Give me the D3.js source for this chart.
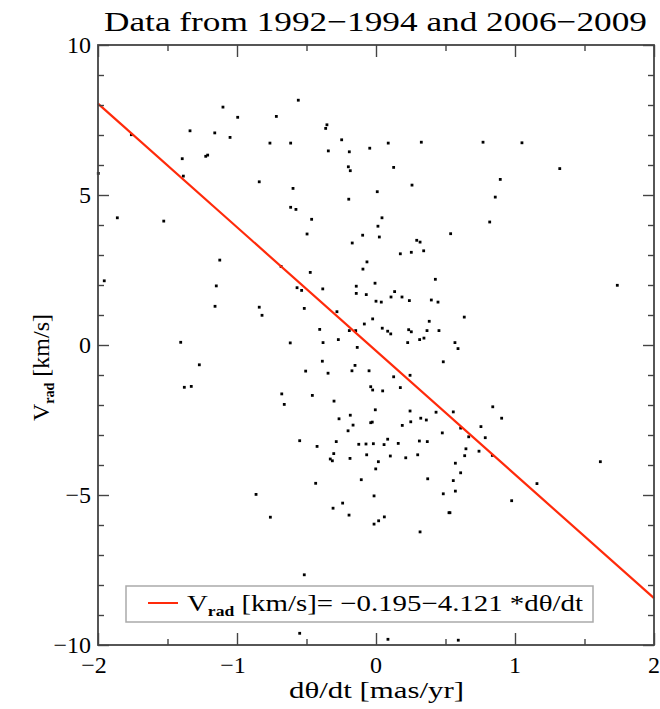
<!DOCTYPE html>
<html><head><meta charset="utf-8">
<script src="https://cdn.jsdelivr.net/npm/d3@7"></script>
<style>body{margin:0;background:#fff}svg{display:block}text{font-family:"Liberation Serif","DejaVu Serif",serif;fill:#000}</style>
</head><body><svg id="c" width="660" height="709"></svg>
<script>
const title = "Data from 1992\u22121994 and 2006\u22122009";
const xTicks = [-2, -1, 0, 1, 2];
const yTicks = [-10, -5, 0, 5, 10];
const fitIntercept = -0.195, fitSlope = -4.121;
const xs = [-1.101,-0.995,-0.717,-1.338,-1.160,-1.050,-0.763,-1.760,-1.394,-1.225,-1.211,-1.386,-0.840,-1.998,-1.861,-1.527,-0.559,-0.353,-0.362,-0.614,-0.247,-0.343,-0.192,-0.045,0.088,0.326,-0.199,-0.185,0.127,0.259,-0.597,0.009,-0.196,-0.614,-0.576,-0.463,0.043,0.014,-0.496,-0.096,0.024,-0.171,0.293,0.317,0.537,0.770,1.050,1.322,0.894,0.858,0.818,-1.124,-1.955,-1.149,-1.158,-0.840,-0.820,-1.405,-1.271,-1.379,-1.329,0.175,0.254,0.343,-0.065,-0.094,-0.473,-0.683,-0.142,-0.007,-0.142,-0.070,-0.568,-0.535,-0.383,0.134,0.108,0.187,0.000,0.038,0.240,0.398,0.446,0.427,-0.516,-0.281,-0.024,-0.084,0.383,0.635,-0.405,-0.192,-0.146,0.045,0.084,0.106,0.235,0.254,0.367,0.453,0.314,0.345,0.228,0.568,0.590,-0.617,-0.381,-0.271,-0.135,-0.386,0.484,-0.151,-0.173,-0.050,-0.506,-0.345,0.127,0.245,-0.038,-0.024,0.048,0.175,-0.678,-0.660,-0.458,-0.302,-0.005,0.245,0.432,0.556,-0.185,-0.266,-0.165,-0.038,-0.027,0.250,0.322,0.362,0.189,-0.201,0.477,0.609,0.667,-0.549,-0.424,-0.286,-0.124,-0.072,-0.019,0.058,0.084,0.160,0.312,0.369,0.647,1.736,0.840,0.904,0.755,0.786,-0.863,-0.760,-0.304,-0.329,-0.314,-0.187,-0.067,0.017,-0.002,0.103,0.214,0.300,0.638,0.571,0.609,0.556,0.571,0.484,0.372,-0.434,-0.106,-0.014,-0.240,-0.309,-0.194,-0.014,0.019,0.060,0.525,0.532,0.317,-0.516,-0.549,0.086,0.592,0.741,0.837,1.614,1.158,0.976];
const ys = [7.93,7.59,7.62,7.14,7.07,6.92,6.73,7.01,6.21,6.29,6.33,5.63,5.44,5.72,4.24,4.13,8.16,7.34,7.22,6.73,6.84,6.47,6.44,6.56,6.73,6.76,5.94,5.81,5.92,5.33,5.22,5.11,4.86,4.59,4.52,4.19,4.24,3.96,3.70,3.66,3.60,3.40,3.49,3.43,3.71,6.76,6.74,5.88,5.52,4.93,4.10,2.83,2.14,1.97,1.29,1.26,0.99,0.09,-0.66,-1.41,-1.38,3.04,3.09,3.14,2.77,2.53,2.42,2.62,1.96,2.06,1.72,1.68,1.91,1.82,1.87,1.78,1.60,1.60,1.46,1.43,1.48,1.50,1.43,2.19,1.22,1.11,0.87,0.70,0.79,0.93,0.52,0.48,0.48,0.56,0.46,0.37,0.51,0.44,0.48,0.48,0.18,0.23,0.08,0.08,-0.12,0.07,0.08,0.18,-0.08,-0.54,-0.56,-0.68,-0.86,-0.86,-0.87,-0.94,-1.06,-1.01,-1.39,-1.50,-1.53,-1.42,-1.63,-1.98,-1.68,-1.87,-2.16,-2.20,-2.24,-2.23,-2.34,-2.46,-2.67,-2.59,-2.57,-2.56,-2.44,-2.50,-2.68,-2.86,-2.93,-2.77,-3.06,-3.19,-3.38,-3.22,-3.31,-3.30,-3.29,-3.32,-3.14,-3.28,-3.20,-3.22,-3.46,1.99,-2.06,-2.44,-2.72,-3.09,-4.98,-5.74,-3.62,-3.80,-3.86,-3.78,-3.66,-3.89,-4.13,-3.70,-3.76,-3.66,-3.69,-3.94,-4.26,-4.52,-4.87,-4.96,-4.46,-4.61,-4.49,-5.03,-5.27,-5.44,-5.67,-5.97,-5.86,-5.73,-5.59,-5.59,-6.23,-7.66,-9.61,-9.81,-9.84,-3.54,-3.68,-3.89,-4.62,-5.19];

const svg = d3.select("#c");
const L = 98, R = 654, T = 45, B = 645;
const x = d3.scaleLinear().domain([-2, 2]).range([L, R]);
const y = d3.scaleLinear().domain([-10, 10]).range([B, T]);
const axisCol = "#444";

// points
svg.append("g").selectAll("rect").data(d3.range(xs.length)).join("rect")
  .attr("x", i => x(xs[i]) - 1.4).attr("y", i => y(ys[i]) - 1.4)
  .attr("width", 2.8).attr("height", 2.8).attr("fill", "#000");

// fit line
svg.append("line")
  .attr("x1", x(-2)).attr("y1", y(fitIntercept + fitSlope * -2))
  .attr("x2", x(2)).attr("y2", y(fitIntercept + fitSlope * 2))
  .attr("stroke", "#ff2a0a").attr("stroke-width", 2.2);

// axes (inward ticks, mirrored)
const xMajor = xTicks, xMinor = [-1.5, -0.5, 0.5, 1.5];
const yMajor = yTicks, yMinor = d3.range(-9, 10, 1).filter(v => v % 5 !== 0);
function addAxis(axis, tf) {
  const g = svg.append("g").attr("transform", tf).call(axis);
  g.select(".domain").remove();
  g.selectAll("line").attr("stroke", axisCol).attr("stroke-width", 1.4);
  g.selectAll("text").remove();
  return g;
}
addAxis(d3.axisBottom(x).tickValues(xMajor).tickSize(-12), `translate(0,${B})`);
addAxis(d3.axisBottom(x).tickValues(xMinor).tickSize(-6), `translate(0,${B})`);
addAxis(d3.axisTop(x).tickValues(xMajor).tickSize(-12), `translate(0,${T})`);
addAxis(d3.axisTop(x).tickValues(xMinor).tickSize(-6), `translate(0,${T})`);
addAxis(d3.axisLeft(y).tickValues(yMajor).tickSize(-11), `translate(${L},0)`);
addAxis(d3.axisLeft(y).tickValues(yMinor).tickSize(-6), `translate(${L},0)`);
addAxis(d3.axisRight(y).tickValues(yMajor).tickSize(-11), `translate(${R},0)`);
addAxis(d3.axisRight(y).tickValues(yMinor).tickSize(-6), `translate(${R},0)`);
svg.append("rect").attr("x", L).attr("y", T).attr("width", R - L).attr("height", B - T)
  .attr("fill", "none").attr("stroke", axisCol).attr("stroke-width", 1.8);

const fmt = v => v < 0 ? "\u2212" + Math.abs(v) : String(v);
// tick labels
svg.append("g").selectAll("text").data(xTicks).join("text")
  .attr("x", d => x(d) - (d < 0 ? 4 : 0)).attr("y", 673).attr("text-anchor", "middle")
  .attr("font-size", 24).text(fmt);
svg.append("g").selectAll("text").data(yTicks).join("text")
  .attr("x", 91).attr("y", d => y(d) + 8).attr("text-anchor", "end")
  .attr("font-size", 24).text(fmt);

// title
svg.append("text").attr("x", 104).attr("y", 31).attr("font-size", 28)
  .attr("textLength", 543).attr("lengthAdjust", "spacingAndGlyphs").text(title);

// axis titles
svg.append("text").attr("x", 289).attr("y", 698).attr("font-size", 24)
  .attr("textLength", 175).attr("lengthAdjust", "spacingAndGlyphs")
  .text("d\u03B8/dt [mas/yr]");
const yt = svg.append("text").attr("transform", "translate(49,421) rotate(-90)").attr("font-size", 24);
yt.append("tspan").text("V");
yt.append("tspan").attr("font-size", 14).attr("dy", 5).attr("font-weight", "bold").text("rad");
yt.append("tspan").attr("dy", -5).text(" [km/s]");

// legend
svg.append("rect").attr("x", 126).attr("y", 586).attr("width", 467).attr("height", 36)
  .attr("fill", "#fff").attr("stroke", "#aaa").attr("stroke-width", 1.5);
svg.append("line").attr("x1", 148).attr("x2", 178).attr("y1", 603).attr("y2", 603)
  .attr("stroke", "#ff2a0a").attr("stroke-width", 2);
const lt = svg.append("text").attr("x", 187).attr("y", 611).attr("font-size", 23)
  .attr("textLength", 396).attr("lengthAdjust", "spacingAndGlyphs");
lt.append("tspan").text("V");
lt.append("tspan").attr("font-size", 14).attr("dy", 5).attr("font-weight", "bold").text("rad");
lt.append("tspan").attr("dy", -5).text(" [km/s]=  \u22120.195\u22124.121 *d\u03B8/dt");
</script></body></html>
